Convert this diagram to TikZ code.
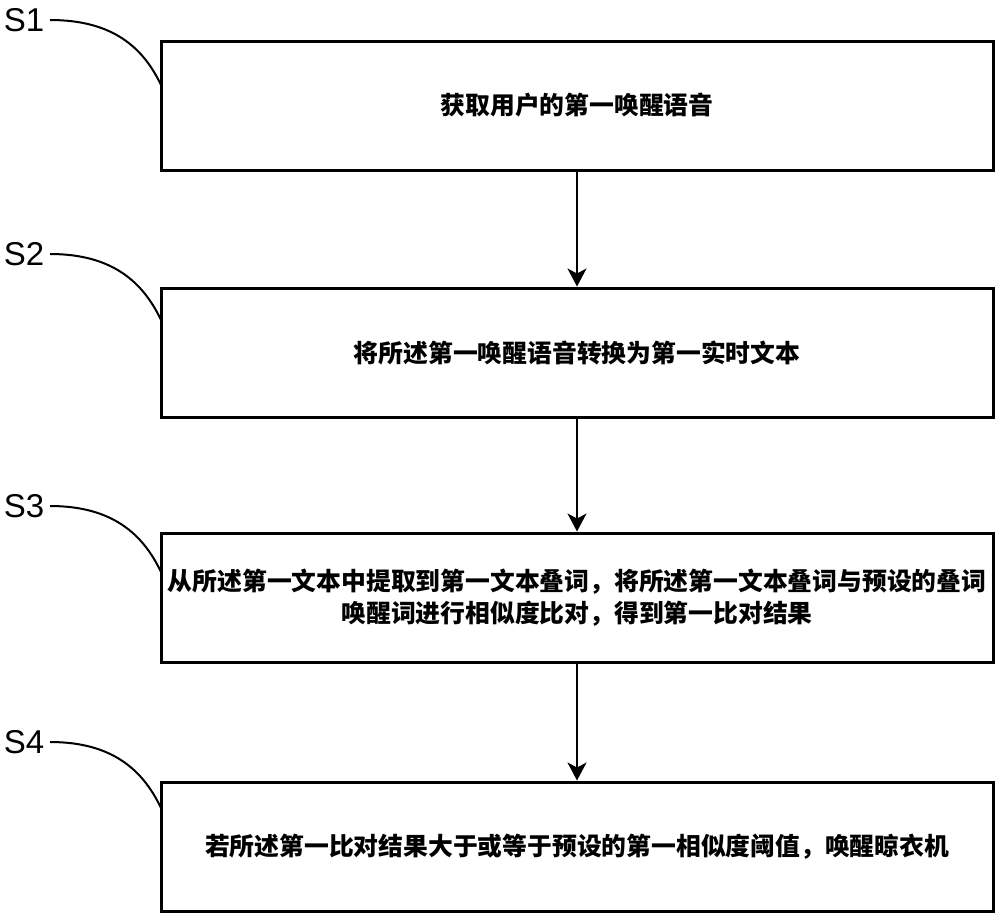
\documentclass[tikz,border=0pt]{standalone}
\usepackage{fontspec}
\setmainfont{Liberation Sans}
\newfontfamily\cjk{Noto Sans CJK SC}
\usetikzlibrary{arrows.meta,calc}
\begin{document}
\begin{tikzpicture}[x=0.5pt,y=-0.5pt,
  stepbox/.style={draw,line width=1.5pt,minimum width=416pt,minimum height=64.5pt,
    inner sep=0pt,align=center,font=\cjk\bfseries\fontsize{12.4}{16}\selectfont},
  steplabel/.style={font=\fontsize{16.5}{18}\selectfont,inner sep=0pt,outer sep=3pt},
  flow/.style={line width=1pt,-{Stealth[length=9pt,width=9.5pt,inset=2.5pt]}},
  lead/.style={line width=1pt}]
\useasboundingbox (0,0) rectangle (1000,918);

\node[stepbox] (b1) at (577,105.5) {获取用户的第一唤醒语音};
\node[stepbox] (b2) at (577,352.5) {将所述第一唤醒语音转换为第一实时文本};
\node[stepbox] (b3) at (577,597.5) {从所述第一文本中提取到第一文本叠词，将所述第一文本叠词与预设的叠词\\唤醒词进行相似度比对，得到第一比对结果};
\node[stepbox] (b4) at (577,846.5) {若所述第一比对结果大于或等于预设的第一相似度阈值，唤醒晾衣机};

\node[steplabel] (l1) at (24,20) {S1};
\node[steplabel] (l2) at (24,254) {S2};
\node[steplabel] (l3) at (24,506) {S3};
\node[steplabel] (l4) at (24,742) {S4};

\coordinate (e1) at (161,85);
\coordinate (e2) at (161,320);
\coordinate (e3) at (161,572);
\coordinate (e4) at (161,808);

\foreach \i in {1,2,3,4}{
  \draw[lead] (l\i.east) .. controls +(62,0) and +(-18,-38) .. (e\i);
}

\draw[flow] (b1.south) -- (b2.north);
\draw[flow] (b2.south) -- (b3.north);
\draw[flow] (b3.south) -- (b4.north);
\end{tikzpicture}
\end{document}
